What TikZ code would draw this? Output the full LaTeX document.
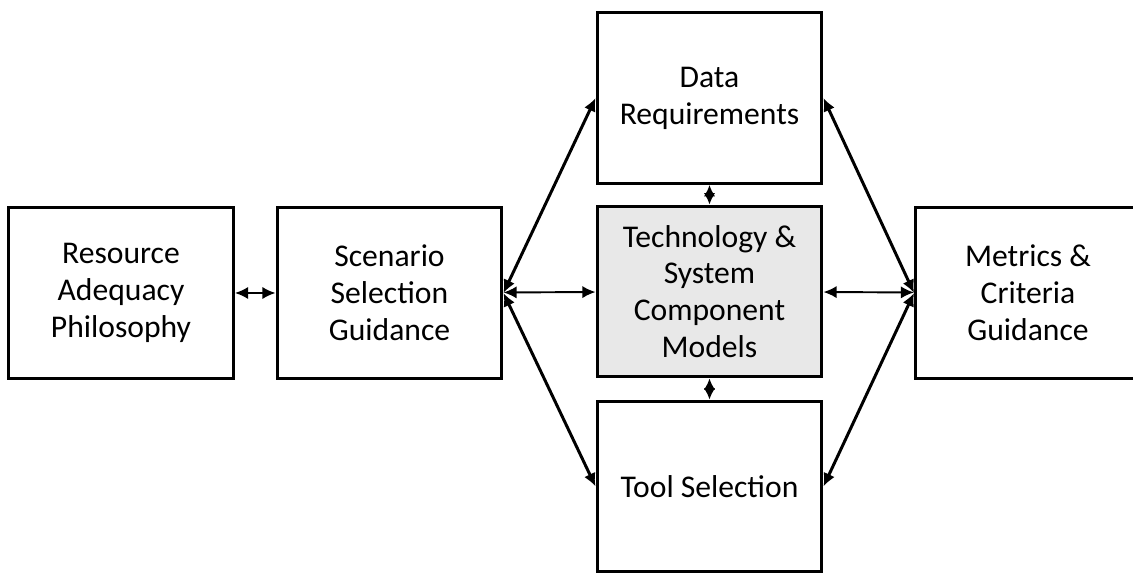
\documentclass[tikz,border=0pt]{standalone}
\usepackage{fontspec}
\setmainfont{Carlito}
\usetikzlibrary{arrows.meta}

\begin{document}
\begin{tikzpicture}[x=0.02cm, y=-0.02cm]
\useasboundingbox (0,0) rectangle (1133,573);
\clip (0,0) rectangle (1133,573);
\begin{scope}[every node/.style={rectangle, line width=1.7pt, draw, align=center,
    minimum width=4.5cm, minimum height=3.42cm, inner sep=0pt,
    font=\fontsize{18}{21}\selectfont}]
\node (res) at (121, 293) {Resource\\Adequacy\\Philosophy};
\node (scen) at (389.5, 293) {Scenario\\Selection\\Guidance};
\node (data) at (709.5, 98) {Data\\Requirements};
\node[fill=gray!18] (tech) at (709.5, 291.5) {Technology \&\\System\\Component\\Models};
\node (tool) at (709.5, 486.5) {Tool Selection};
\node (metr) at (1028, 293) {Metrics \&\\Criteria\\Guidance};

\draw[line width=1.1pt, {Latex[length=7.5pt,width=7pt]}-{Latex[length=7.5pt,width=7pt]}] (res) -- (scen);
\draw[line width=1.1pt, {Latex[length=7.5pt,width=7pt]}-{Latex[length=7.5pt,width=7pt]}] (scen) -- (tech);
\draw[line width=1.1pt, {Latex[length=7.5pt,width=7pt]}-{Latex[length=7.5pt,width=7pt]}] (tech) -- (metr);

\draw[line width=1.7pt, {Latex[length=7.5pt,width=7pt]}-{Latex[length=7.5pt,width=7pt]}] (scen.east) -- (data.west);
\draw[line width=1.7pt, {Latex[length=7.5pt,width=7pt]}-{Latex[length=7.5pt,width=7pt]}] (scen.east) -- (tool.west);
\draw[line width=1.7pt, {Latex[length=7.5pt,width=7pt]}-{Latex[length=7.5pt,width=7pt]}] (data.east) -- (metr.west);
\draw[line width=1.7pt, {Latex[length=7.5pt,width=7pt]}-{Latex[length=7.5pt,width=7pt]}] (tool.east) -- (metr.west);

\draw[line width=1.1pt, {Latex[length=6.5pt,width=6.5pt]}-{Latex[length=6.5pt,width=6.5pt]}] (data) -- (tech);
\draw[line width=1.1pt, {Latex[length=6.5pt,width=6.5pt]}-{Latex[length=6.5pt,width=6.5pt]}] (tech) -- (tool);
\end{scope}
\end{tikzpicture}
\end{document}
